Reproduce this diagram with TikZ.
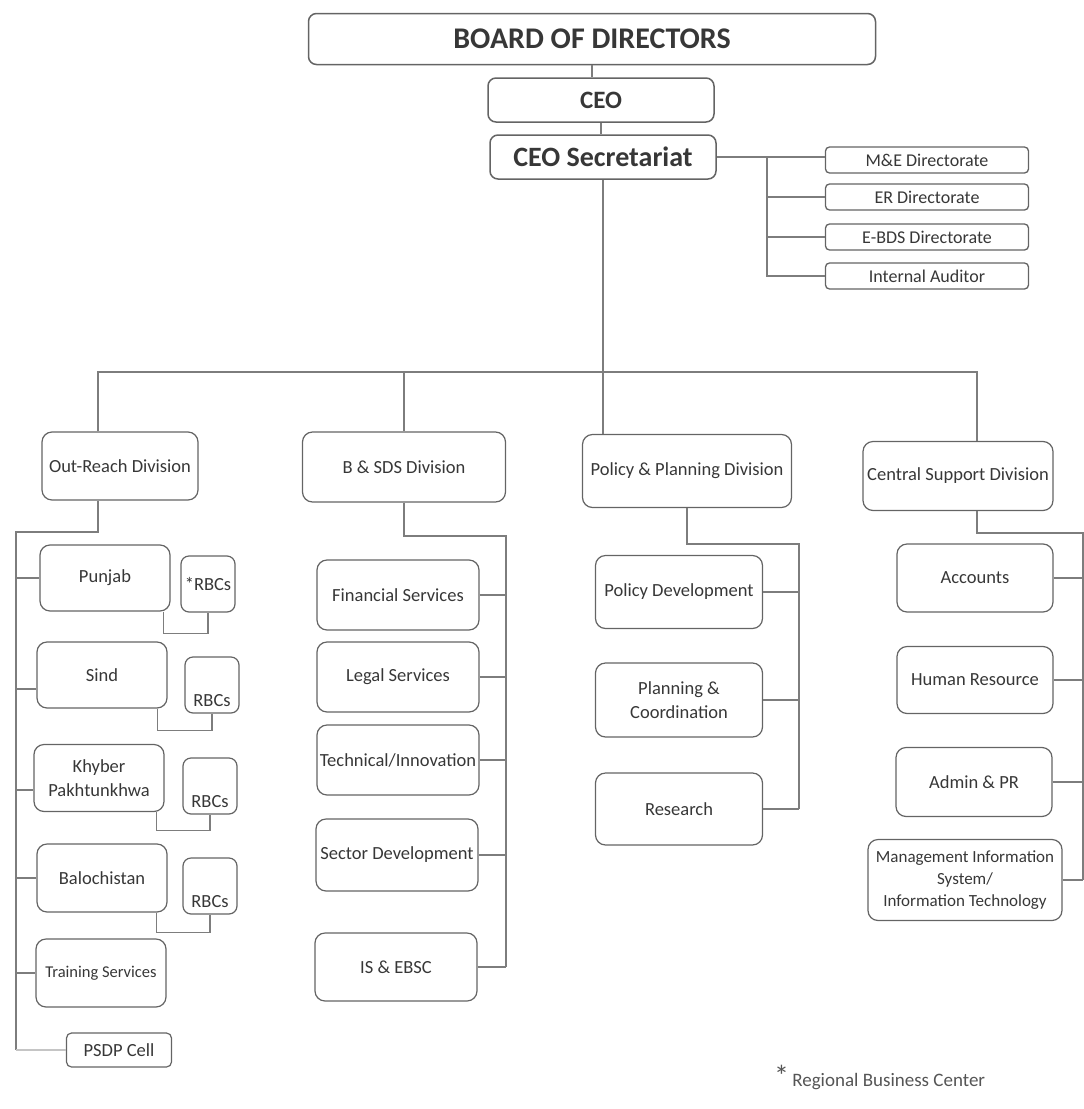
\documentclass[tikz,border=0pt]{standalone}
\usepackage{fontspec}
\setmainfont{Carlito}
\usetikzlibrary{positioning,calc}
\definecolor{LineGrey}{RGB}{125,125,125}
\definecolor{BoxGrey}{RGB}{100,100,100}
\definecolor{InkGrey}{RGB}{55,55,55}
\tikzset{
  link/.style={draw=LineGrey,line width=1.2pt},
  faintlink/.style={draw=LineGrey!45,line width=1.1pt},
  topbox/.style={draw=BoxGrey,line width=1.5pt,rounded corners=8pt,inner sep=0pt,
    align=center,text=InkGrey,font=\bfseries\fontsize{28}{32}\selectfont},
  dirbox/.style={draw=BoxGrey,line width=1.3pt,rounded corners=4pt,inner sep=0pt,
    minimum width=203pt,minimum height=26pt,text=InkGrey,font=\fontsize{18}{21}\selectfont},
  divbox/.style={draw=BoxGrey,line width=1.2pt,rounded corners=10pt,inner sep=0pt,
    align=center,text=InkGrey,font=\fontsize{18.5}{24}\selectfont},
  unitbox/.style={divbox,minimum width=162pt,minimum height=70pt},
  provbox/.style={divbox,minimum width=130pt,minimum height=67pt},
  rbcbox/.style={divbox,rounded corners=8pt,minimum width=54pt,minimum height=56pt},
  rbclow/.style={rbcbox,text height=42pt,text depth=0pt}
}
\begin{document}
\begin{tikzpicture}[x=1pt,y=-1pt]
  \useasboundingbox (0,0) rectangle (1084,1109);

  % top of the chart
  \node[topbox,minimum width=567pt,minimum height=51pt,font=\bfseries\fontsize{30}{34}\selectfont] (board) at (592,39) {BOARD OF DIRECTORS};
  \node[topbox,minimum width=226pt,minimum height=44pt,font=\bfseries\fontsize{25}{30}\selectfont] (ceo) at (601,100) {CEO};
  \node[topbox,minimum width=226pt,minimum height=44pt] (secretariat) at (603,157) {CEO Secretariat};
  \draw[link] (board.south) -- (board.south |- ceo.north);
  \draw[link] (ceo.south) -- (ceo.south |- secretariat.north);

  \node[dirbox] (medir) at (927,160) {M\&E Directorate};
  \node[dirbox] (erdir) at (927,197) {ER Directorate};
  \node[dirbox] (ebdsdir) at (927,237) {E-BDS Directorate};
  \node[dirbox] (auditor) at (927,276) {Internal Auditor};
  \coordinate (dirbus) at (767,157);
  \draw[link] (secretariat.east) -- (secretariat.east -| medir.west);
  \draw[link] (dirbus) |- (auditor.west);
  \foreach \d in {erdir,ebdsdir}
    \draw[link] (dirbus |- \d.west) -- (\d.west);

  % divisions
  \node[divbox,minimum width=156pt,minimum height=68pt] (outreach) at (120,466) {Out-Reach Division};
  \node[divbox,minimum width=203pt,minimum height=70pt] (bsds) at (404,467) {B \& SDS Division};
  \node[divbox,minimum width=209pt,minimum height=73pt] (policy) at (687,471) {Policy \& Planning Division};
  \node[divbox,minimum width=190pt,minimum height=69pt] (central) at (958,476) {Central Support Division};
  \coordinate (busL) at (98,372);
  \coordinate (busR) at (977,372);
  \draw[link] (secretariat.south) -- (secretariat.south |- policy.north);
  \draw[link] (busL |- outreach.north) -- (busL) -- (busR) -- (busR |- central.north);
  \draw[link] (bsds.north |- busL) -- (bsds.north);

  % out-reach division
  \node[provbox,minimum height=66pt] (punjab) at (105,578) {Punjab};
  \node[provbox,minimum height=66pt] (sind) at (102,675) {Sind};
  \node[provbox] (khyber) at (99,778) {Khyber\\Pakhtunkhwa};
  \node[provbox,minimum height=68pt] (baloch) at (102,878) {Balochistan};
  \node[provbox,minimum height=68pt,font=\fontsize{16.5}{20}\selectfont] (training) at (101,973) {Training Services};
  \node[divbox,rounded corners=5pt,minimum width=105pt,minimum height=34pt] (psdp) at (119,1050) {PSDP Cell};
  \node[rbcbox] (rbcp) at (208,584) {*RBCs};
  \node[rbclow] (rbcs) at (212,685) {RBCs};
  \node[rbclow] (rbck) at (210,786) {RBCs};
  \node[rbclow] (rbcb) at (210,886) {RBCs};
  \coordinate (orjoint) at (16,532);
  \coordinate (sindlink) at ($(sind.west)+(0,14)$);
  \coordinate (khyberlink) at ($(khyber.west)+(0,12)$);
  \draw[link] (busL |- outreach.south) -- (busL |- orjoint) -- (orjoint) -- (orjoint |- psdp.west);
  \draw[faintlink] (orjoint |- psdp.west) -- (psdp.west);
  \foreach \n in {punjab,baloch,training}
    \draw[link] (orjoint |- \n.west) -- (\n.west);
  \foreach \n in {sindlink,khyberlink}
    \draw[link] (orjoint |- \n) -- (\n);
  \draw[link] ($(punjab.south east)+(-7,0)$) -- ++(0,22) -| (rbcp.south);
  \draw[link] ($(sind.south east)+(-10,0)$) -- ++(0,22) -| (rbcs.south);
  \draw[link] ($(khyber.south east)+(-8,0)$) -- ++(0,18) -| (rbck.south);
  \draw[link] ($(baloch.south east)+(-11,0)$) -- ++(0,20) -| (rbcb.south);

  % b & sds division
  \node[unitbox] (finance) at (398,595) {Financial Services};
  \node[unitbox] (legal) at (398,677) {Legal Services};
  \node[unitbox] (technical) at (398,760) {Technical/Innovation};
  \node[unitbox,minimum height=72pt] (sector) at (397,855) {Sector Development};
  \node[unitbox,minimum height=68pt] (isebsc) at (396,967) {IS \& EBSC};
  \coordinate (bsjoint) at (506,536);
  \draw[link] (bsds.south) -- (bsds.south |- bsjoint) -- (bsjoint) -- (bsjoint |- isebsc.east);
  \foreach \n in {finance,legal,technical,sector,isebsc}
    \draw[link] (\n.east) -- (bsjoint |- \n.east);

  % policy & planning division
  \node[unitbox,minimum width=167pt,minimum height=73pt] (poldev) at (679,592) {Policy Development};
  \node[unitbox,minimum width=167pt,minimum height=74pt] (plancoord) at (679,700) {Planning \&\\Coordination};
  \node[unitbox,minimum width=167pt,minimum height=72pt] (research) at (679,809) {Research};
  \coordinate (ppjoint) at (799,544);
  \draw[link] (policy.south) -- (policy.south |- ppjoint) -- (ppjoint) -- (ppjoint |- research.east);
  \foreach \n in {poldev,plancoord,research}
    \draw[link] (\n.east) -- (ppjoint |- \n.east);

  % central support division
  \node[unitbox,minimum width=156pt,minimum height=68pt] (accounts) at (975,578) {Accounts};
  \node[unitbox,minimum width=156pt,minimum height=67pt] (hr) at (975,680) {Human Resource};
  \node[unitbox,minimum width=156pt,minimum height=69pt] (admin) at (974,782) {Admin \& PR};
  \node[unitbox,minimum width=194pt,minimum height=81pt,font=\fontsize{17}{22}\selectfont] (mis) at (965,880) {Management Information\\System/\\Information Technology};
  \coordinate (csjoint) at (1083,533);
  \draw[link] (busR |- central.south) -- (busR |- csjoint) -- (csjoint) -- (csjoint |- mis.east);
  \foreach \n in {accounts,hr,admin,mis}
    \draw[link] (\n.east) -- (csjoint |- \n.east);

  % footnote
  \node[anchor=base west,inner sep=0pt,text=InkGrey!85,font=\fontsize{19}{22}\selectfont] (note) at (774,1086) {{\fontsize{30}{30}\selectfont*}\,Regional Business Center};
\end{tikzpicture}
\end{document}
